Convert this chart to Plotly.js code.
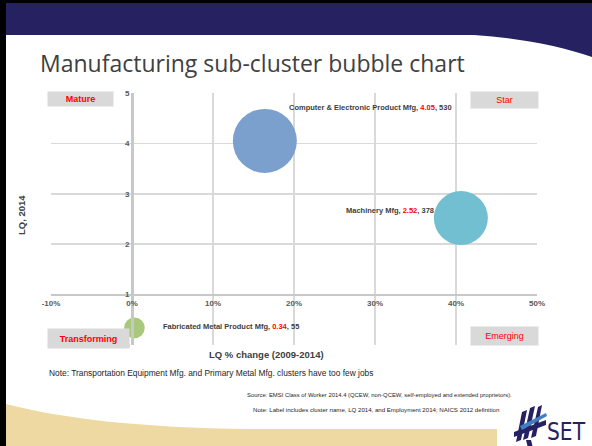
<!DOCTYPE html>
<html><head><meta charset="utf-8">
<script src="https://cdn.plot.ly/plotly-3.0.1.min.js"></script>
<style>
html,body{margin:0;padding:0;background:#fff;overflow:hidden}
#wrap{position:relative;width:592px;height:446px}
#deco{position:absolute;left:0;top:0}
#chart{position:absolute;left:0;top:0;width:592px;height:446px}
</style></head><body>
<div id="wrap">
<svg id="deco" width="592" height="446">
 <path d="M0,0 H592 V57 C560,46 520,38 474,35 L0,35 Z" fill="#262262"/>
 <rect x="0" y="0" width="592" height="3" fill="#000"/>
 <path d="M6,404 C60,418 140,428 250,429 L497,429 L497,446 L6,446 Z" fill="#EFD9A2"/>
 <rect x="0" y="0" width="6" height="446" fill="#000"/>
 <g fill="#262262">
  <polygon points="522,412 527,410 521,440 516,442"/>
  <polygon points="530,408 535,406 528,438 523,440"/>
  <polygon points="538,407 542,405 536,436 531,438"/>
  <polygon points="514,432 546,420 546,425 514,437"/>
  <polygon points="526,440 531,440 534,452 529,452"/>
 </g>
 <polygon points="520,426 546,413 547,416 522,430" fill="#3F7FC1"/>
 <text x="547" y="440" font-family="DejaVu Sans Condensed" font-size="24" textLength="38" lengthAdjust="spacingAndGlyphs" fill="#262262">SET</text>
</svg>
<div id="chart"></div>
</div>
<script>
const clusters = ['Computer & Electronic Product Mfg', 'Machinery Mfg', 'Fabricated Metal Product Mfg'];
const lqChange = [16.4, 40.6, 0.3];
const lq2014 = [4.05, 2.52, 0.34];
const employment = [530, 378, 55];
const bubbleColors = ['#7BA0CD', '#72BFD1', '#A8C97B'];
const xTicks = [-10, 0, 10, 20, 30, 40, 50];
const xTickLabels = ['-10%', '0%', '10%', '20%', '30%', '40%', '50%'];
const yTicks = [0, 1, 2, 3, 4, 5];
const quadrants = ['Mature', 'Star', 'Transforming', 'Emerging'];

const xRange = [-10, 50];
const yRange = [0, 5];
const maxPx = 64;

const labelStyle = [
  {xanchor: 'left', xshift: 22, yshift: 33},
  {xanchor: 'right', xshift: -25, yshift: 7},
  {xanchor: 'left', xshift: 27, yshift: 1}
];

const trace = {
  type: 'scatter', mode: 'markers',
  x: lqChange, y: lq2014, text: clusters,
  marker: {
    size: employment, sizemode: 'area',
    sizeref: 2 * Math.max(...employment) / (maxPx * maxPx),
    color: bubbleColors, opacity: 1, line: {width: 0}
  },
  hoverinfo: 'text'
};

const anns = clusters.map((c, i) => Object.assign({
  xref: 'x', yref: 'y', x: lqChange[i], y: lq2014[i],
  text: c + ', <span style="color:#FF0000">' + lq2014[i].toFixed(2) + '</span>, ' + employment[i],
  showarrow: false, yanchor: 'middle',
  font: {family: 'Liberation Sans', size: 7.5, color: '#404040', weight: 'bold'}
}, labelStyle[i]));

const quadPos = [
  {x: 0.0607, y: 0.976, w: 65, h: 14, bold: true},
  {x: 0.933, y: 0.972, w: 67, h: 16, bold: false},
  {x: 0.077, y: 0.026, w: 81, h: 19, bold: true},
  {x: 0.933, y: 0.036, w: 67, h: 18, bold: false}
];
quadrants.forEach((q, i) => {
  const p = quadPos[i];
  anns.push({xref: 'paper', yref: 'paper', x: p.x, y: p.y, xanchor: 'center', yanchor: 'middle',
    text: q, showarrow: false, bgcolor: '#D9D9D9', width: p.w, height: p.h, borderpad: 0,
    font: {family: 'Liberation Sans', size: 9, color: '#FF0000', weight: p.bold ? 'bold' : 'normal'}});
});

anns.push({xref: 'paper', yref: 'paper', x: 0.444, y: -0.036, xanchor: 'center', yanchor: 'middle',
  text: 'LQ % change (2009-2014)', showarrow: false,
  font: {family: 'Liberation Sans', size: 9.5, color: '#404040', weight: 'bold'}});
anns.push({xref: 'paper', yref: 'paper', x: -0.0597, y: 0.516, xanchor: 'center', yanchor: 'middle',
  text: 'LQ, 2014', showarrow: false, textangle: -90,
  font: {family: 'Liberation Sans', size: 9.5, color: '#404040', weight: 'bold'}});

anns.push({xref: 'paper', yref: 'paper', x: -0.008, y: -0.111, xanchor: 'left', yanchor: 'middle',
  text: 'Note: Transportation Equipment Mfg. and Primary Metal Mfg. clusters have too few jobs', showarrow: false,
  font: {family: 'Liberation Sans', size: 8.4, color: '#262626'}});
anns.push({xref: 'paper', yref: 'paper', x: (245 - 51) / 486, y: -0.198, xanchor: 'left', yanchor: 'middle',
  text: 'Source: EMSI Class of Worker 2014.4 (QCEW, non-QCEW, self-employed and extended proprietors).', showarrow: false,
  font: {family: 'Liberation Sans', size: 5.9, color: '#262626'}});
anns.push({xref: 'paper', yref: 'paper', x: (251 - 51) / 486, y: -0.254, xanchor: 'left', yanchor: 'middle',
  text: 'Note: Label includes cluster name, LQ 2014, and Employment 2014; NAICS 2012 definition', showarrow: false,
  font: {family: 'Liberation Sans', size: 6.1, color: '#262626'}});

const tickFont = {family: 'Liberation Sans', size: 8, color: '#595959', weight: 'bold'};

const layout = {
  width: 592, height: 446,
  margin: {l: 51, r: 55, t: 93, b: 101, pad: 0},
  paper_bgcolor: 'rgba(0,0,0,0)', plot_bgcolor: 'rgba(0,0,0,0)',
  showlegend: false,
  title: {text: 'Manufacturing sub-cluster bubble chart',
    font: {family: 'Open Sans', size: 23, color: '#404040'},
    xref: 'container', x: 40 / 592, xanchor: 'left', yref: 'container', y: 1 - 64 / 446, yanchor: 'middle'},
  xaxis: {range: xRange, tickvals: xTicks, ticktext: xTickLabels, showgrid: true, gridcolor: '#D9D9D9', gridwidth: 1.5,
    zeroline: false, showline: true, linecolor: '#C8C8C8', linewidth: 2.5, anchor: 'free',
    position: (1 - yRange[0]) / (yRange[1] - yRange[0]), ticks: '', tickfont: tickFont, fixedrange: true},
  yaxis: {range: yRange, tickvals: yTicks, showgrid: true, gridcolor: '#D9D9D9', gridwidth: 1.5,
    zeroline: false, showline: true, linecolor: '#C8C8C8', linewidth: 2.5, anchor: 'free',
    position: (0 - xRange[0]) / (xRange[1] - xRange[0]), ticks: '', tickfont: tickFont, fixedrange: true},
  annotations: anns
};

Plotly.newPlot('chart', [trace], layout, {displayModeBar: false, staticPlot: true});
</script>
</body></html>
